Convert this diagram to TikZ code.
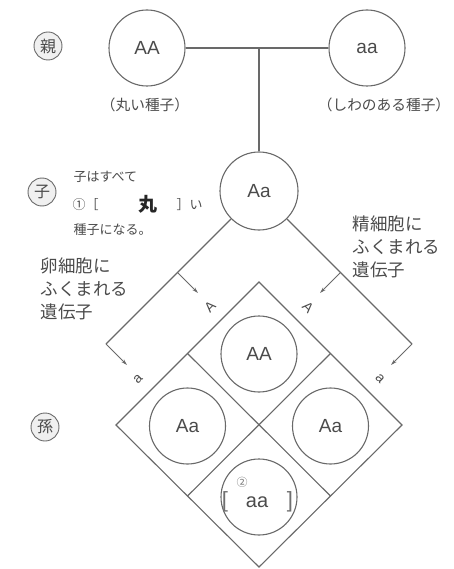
\documentclass[tikz,border=0pt]{standalone}
\usepackage{fontspec}
\setmainfont{Liberation Sans}
\newfontfamily\jp{Noto Sans CJK JP}
\usetikzlibrary{arrows.meta,calc}
\definecolor{linec}{RGB}{105,105,105}
\definecolor{txtc}{RGB}{75,75,75}
\begin{document}
\begin{tikzpicture}[x=1pt,y=-1pt,line width=1.1pt,draw=linec,
  circ/.style={circle,draw=linec,line width=1.1pt,minimum size=76pt,inner sep=0pt,
    text=txtc,font=\fontsize{19}{19}\selectfont},
  gen/.style={circle,draw=linec,line width=0.9pt,minimum size=28pt,inner sep=0pt,
    fill=black!6,text=txtc,font=\jp\fontsize{16}{16}\selectfont},
  jtxt/.style={anchor=west,inner sep=0pt,text=txtc,font=\jp\fontsize{17.5}{17.5}\selectfont},
  jsmall/.style={anchor=west,inner sep=0pt,text=txtc,font=\jp\fontsize{13}{13}\selectfont},
  jlab/.style={inner sep=0pt,text=txtc,font=\jp\fontsize{14.7}{14.7}\selectfont},
  allele/.style={inner sep=0pt,text=txtc,font=\fontsize{14}{14}\selectfont},
  arr/.style={-{Stealth[length=6pt,width=3.5pt]},line width=0.9pt}]
\useasboundingbox (0,0) rectangle (454,569);

% generation marks
\node[gen] (m1) at (48,46) {親};
\node[gen] (m2) at (42,192) {子};
\node[gen] (m3) at (45,427) {孫};

% parents
\node[circ] (P1) at (147,48) {AA};
\node[circ] (P2) at (367,48) {aa};
\node[jlab] (l1) at (145,105) {（丸い種子）};
\node[jlab] (l2) at (384,105) {（しわのある種子）};
\coordinate (J) at (259,48);
\draw (P1.east) -- (P2.west);

% child
\node[circ,minimum size=78pt] (C) at (259,191) {Aa};
\draw (J) -- (C.north);
\node[jsmall] (c1) at (73,177) {子はすべて};
\node[jsmall] (c2) at (72,205) {①［};
\node[inner sep=0pt,text=black!85,font=\jp\bfseries\fontsize{19}{19}\selectfont] (c3) at (148,204) {丸};
\node[jsmall] (c4) at (176,205) {］い};
\node[jsmall] (c5) at (73,230) {種子になる。};

% gamete texts
\node[jtxt] (e1) at (40,266) {卵細胞に};
\node[jtxt] (e2) at (40,289) {ふくまれる};
\node[jtxt] (e3) at (40,312) {遺伝子};
\node[jtxt] (s1) at (352,224) {精細胞に};
\node[jtxt] (s2) at (352,247) {ふくまれる};
\node[jtxt] (s3) at (352,270) {遺伝子};

% gamete connectors
\coordinate (L) at (106,344);
\coordinate (R) at (412,344);
\coordinate (LB) at (177.5,272.5);
\coordinate (RB) at (340.5,272.5);
\coordinate (LtA) at (198,293);
\coordinate (Lta) at (127,365);
\coordinate (RtA) at (320,293);
\coordinate (Rta) at (391,365);
\draw (C) -- (L);
\draw (C) -- (R);
\draw[arr] (L) -- (Lta);
\draw[arr] (R) -- (Rta);
\draw[arr] (LB) -- (LtA);
\draw[arr] (RB) -- (RtA);
\node[allele,rotate=45] (aLA) at (210,307) {A};
\node[allele,rotate=45] (aLa) at (138,379) {a};
\node[allele,rotate=-45] (aRA) at (308,307) {A};
\node[allele,rotate=-45] (aRa) at (380,379) {a};

% Punnett diamond
\coordinate (DT) at (259,282);
\coordinate (DL) at (116,425);
\coordinate (DB) at (259,567);
\coordinate (DR) at (402,425);
\draw (DT) -- (DR) -- (DB) -- (DL) -- cycle;
\draw ($(DT)!0.5!(DL)$) -- ($(DR)!0.5!(DB)$);
\draw ($(DT)!0.5!(DR)$) -- ($(DL)!0.5!(DB)$);

\node[circ] (G1) at (259,354) {AA};
\node[circ] (G2) at (187.5,426) {Aa};
\node[circ] (G3) at (330.5,426) {Aa};
\node[circ] (G4) at (259,497) {};
\node[inner sep=0pt,text=txtc,font=\fontsize{20}{20}\selectfont] (g4t) at (257,502) {aa};
\node[inner sep=0pt,text=txtc!80,font=\fontsize{22}{22}\selectfont] (g4l) at (225,502) {[};
\node[inner sep=0pt,text=txtc!80,font=\fontsize{22}{22}\selectfont] (g4r) at (290,502) {]};
\node[inner sep=0pt,text=txtc!80,font=\jp\fontsize{11}{11}\selectfont] (g4n) at (242,482) {②};
\end{tikzpicture}
\end{document}
